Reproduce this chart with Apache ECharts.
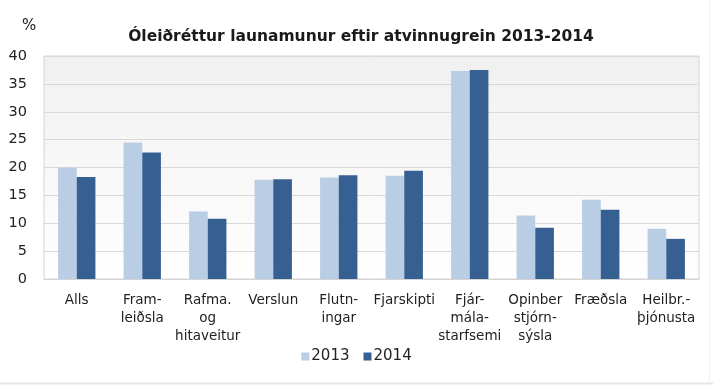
<!DOCTYPE html>
<html>
<head>
<meta charset="utf-8">
<script src="https://cdn.jsdelivr.net/npm/echarts@6/dist/echarts.min.js"></script>
<style>
html,body{margin:0;padding:0;background:#fff;}
#c{width:713px;height:385px;}
</style>
</head>
<body>
<div id="c"></div>
<script>
const categories = ["Alls", "Fram-\nleiðsla", "Rafma.\nog\nhitaveitur", "Verslun", "Flutn-\ningar", "Fjarskipti", "Fjár-\nmála-\nstarfsemi", "Opinber\nstjórn-\nsýsla", "Fræðsla", "Heilbr.-\nþjónusta"];
const values2013 = [20.0, 24.5, 12.1, 17.8, 18.2, 18.5, 37.3, 11.4, 14.2, 9.0];
const values2014 = [18.3, 22.7, 10.8, 17.9, 18.6, 19.4, 37.5, 9.2, 12.4, 7.2];
const yTicks = [0, 5, 10, 15, 20, 25, 30, 35, 40];

const font = "'DejaVu Sans', Verdana, sans-serif";
const chart = echarts.init(document.getElementById('c'), null, {renderer: 'canvas'});
chart.setOption({
  animation: false,
  textStyle: {fontFamily: font},
  title: {
    text: 'Óleiðréttur launamunur eftir atvinnugrein 2013-2014',
    left: 356, top: 24, textAlign: 'center',
    textStyle: {fontFamily: font, fontSize: 15.5, fontWeight: 'bold', color: '#1a1a1a'}
  },
  graphic: [{
    type: 'text', left: 22, top: 19,
    style: {text: '%', font: "15px 'DejaVu Sans', Verdana, sans-serif", fill: '#222'}
  }, {
    type: 'line', shape: {x1: 0, y1: 383.5, x2: 713, y2: 383.5},
    style: {stroke: '#e6e6e6', lineWidth: 2}
  }, {
    type: 'line', shape: {x1: 709.5, y1: 0, x2: 709.5, y2: 385},
    style: {stroke: '#f0f0f0', lineWidth: 1}
  }],
  legend: {
    data: ['2013', '2014'],
    bottom: 16, left: 'center',
    itemWidth: 8, itemHeight: 8, itemGap: 14,
    icon: 'rect',
    textStyle: {fontFamily: font, fontSize: 15, color: '#222', padding: [0, 0, 0, -3]}
  },
  grid: {
    left: 44, right: 14, top: 56, bottom: 106,
    show: true, borderColor: '#d4d4d4', borderWidth: 1,
    backgroundColor: new echarts.graphic.LinearGradient(0, 0, 0, 1, [
      {offset: 0, color: '#f0f0f0'}, {offset: 1, color: '#ffffff'}
    ])
  },
  xAxis: {
    type: 'category', data: categories,
    axisLine: {show: true, lineStyle: {color: '#d4d4d4'}},
    axisTick: {show: false},
    axisLabel: {interval: 0, fontFamily: font, fontSize: 13.5, color: '#222', lineHeight: 18, margin: 12}
  },
  yAxis: {
    type: 'value', min: yTicks[0], max: yTicks[yTicks.length - 1], interval: 5,
    axisLine: {show: false}, axisTick: {show: false},
    splitLine: {lineStyle: {color: '#d9d9d9', width: 1}},
    axisLabel: {fontFamily: font, fontSize: 14.5, color: '#222', margin: 17}
  },
  series: [
    {name: '2013', type: 'bar', data: values2013, barGap: '0%', barCategoryGap: '43%',
     itemStyle: {color: '#b9cde5'}},
    {name: '2014', type: 'bar', data: values2014, barGap: '0%', barCategoryGap: '43%',
     itemStyle: {color: '#376092'}}
  ]
});
</script>
</body>
</html>
